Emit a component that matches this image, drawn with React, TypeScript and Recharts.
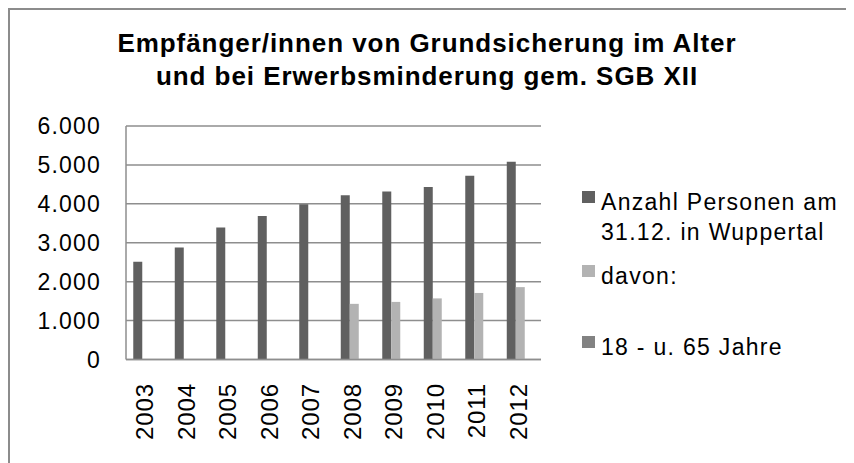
import { BarChart, Bar, XAxis, YAxis, CartesianGrid, Legend } from "recharts"

const years = ["2003", "2004", "2005", "2006", "2007", "2008", "2009", "2010", "2011", "2012"]
const anzahlPersonen = [2510, 2880, 3390, 3690, 3990, 4220, 4320, 4430, 4720, 5080]
const davon = [null, null, null, null, null, 1430, 1480, 1570, 1710, 1860]
const jahre18bis65 = [null, null, null, null, null, null, null, null, null, null]
const yTicks = [0, 1000, 2000, 3000, 4000, 5000, 6000]

const seriesNames = ["Anzahl Personen am 31.12. in Wuppertal", "davon:", "18 - u. 65 Jahre"]
const legendLines = [["Anzahl Personen am", "31.12. in Wuppertal"], ["davon:"], ["18 - u. 65 Jahre"]]
const titleLines = ["Empfänger/innen von Grundsicherung im Alter", "und bei Erwerbsminderung gem. SGB XII"]

const colors = ["#606060", "#b3b3b3", "#828282"]
const font = "'Liberation Sans', Arial, sans-serif"
const gridColor = "#8e8e8e"

const chartData = years.map((year, i) => ({
    year,
    anzahl: anzahlPersonen[i],
    davon:  davon[i],
    jahre:  jahre18bis65[i],
}))

const formatDe = (v: number) => String(v).replace(/\B(?=(\d{3})+(?!\d))/g, ".")

function YearTick({ x, y, payload }: any) {
    return (
        <text
            transform={`translate(${x - 2},${y}) rotate(-90)`}
            textAnchor="end"
            dominantBaseline="central"
            fontSize={24}
            letterSpacing={0.9}
            fontFamily={font}
            fill="#000"
        >
            {payload.value}
        </text>
    )
}

function ValueTick({ x, y, payload }: any) {
    return (
        <text
            x={x}
            y={y}
            textAnchor="end"
            dominantBaseline="central"
            fontSize={23}
            letterSpacing={1.2}
            fontFamily={font}
            fill="#000"
        >
            {formatDe(payload.value)}
        </text>
    )
}

const legendTops = [0, 74, 145]

function LegendBox() {
    return (
        <div style={{ position: "relative", width: 260, height: 180, fontFamily: font }}>
            {legendLines.map((lines, i) => (
                <div key={i} style={{ position: "absolute", left: 0, top: legendTops[i] }}>
                    <div style={{
                        position: "absolute", left: 0, top: 4,
                        width: 13, height: 12, background: colors[i],
                    }} />
                    <div style={{
                        position: "absolute", left: 19, top: 0, whiteSpace: "nowrap",
                        fontSize: 23, letterSpacing: 1.3, lineHeight: "30px", color: "#000",
                    }}>
                        {lines.map((l, j) => <div key={j}>{l}</div>)}
                    </div>
                </div>
            ))}
        </div>
    )
}

export default function App() {
    return (
        <div style={{
            position: "relative", width: 844, height: 453,
            borderLeft: "2px solid #8c8c8c", borderTop: "2px solid #8c8c8c",
            background: "#fff",
        }}>
            <div style={{
                position: "absolute", left: 0, top: 17, width: 834, textAlign: "center",
                fontFamily: font, fontWeight: "bold", fontSize: 26, letterSpacing: 0.95,
                lineHeight: "32.6px", color: "#000",
            }}>
                {titleLines.map((l, i) => <div key={i}>{l}</div>)}
            </div>
            <BarChart
                width={844}
                height={453}
                data={chartData}
                margin={{ top: 116, right: 53, left: 36, bottom: 0 }}
                barCategoryGap="17.5%"
                barGap={0}
            >
                <CartesianGrid vertical={false} stroke={gridColor} strokeWidth={1.5} />
                <XAxis
                    dataKey="year"
                    height={103.5}
                    interval={0}
                    tickSize={0}
                    tickMargin={23.5}
                    tick={<YearTick />}
                    axisLine={{ stroke: gridColor, strokeWidth: 1.5 }}
                    tickLine={false}
                />
                <YAxis
                    width={80}
                    domain={[0, 6000]}
                    ticks={yTicks}
                    interval={0}
                    tickSize={0}
                    tickMargin={25}
                    tick={<ValueTick />}
                    axisLine={{ stroke: gridColor, strokeWidth: 1.5 }}
                    tickLine={false}
                />
                <Legend
                    layout="vertical"
                    align="right"
                    verticalAlign="top"
                    wrapperStyle={{ left: 572, top: 177, width: 260 }}
                    content={() => <LegendBox />}
                />
                <Bar dataKey="anzahl" name={seriesNames[0]} fill={colors[0]} isAnimationActive={false} />
                <Bar dataKey="davon"  name={seriesNames[1]} fill={colors[1]} isAnimationActive={false} />
                <Bar dataKey="jahre"  name={seriesNames[2]} fill={colors[2]} isAnimationActive={false} />
            </BarChart>
        </div>
    )
}
